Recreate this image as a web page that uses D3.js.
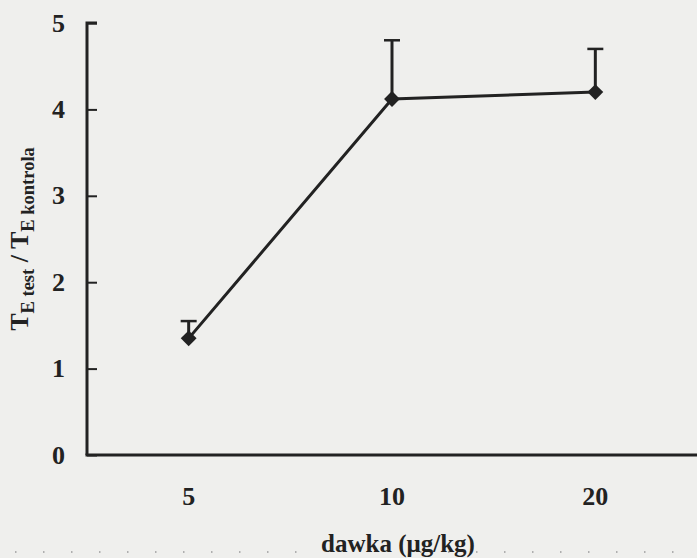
<!DOCTYPE html>
<html>
<head>
<meta charset="utf-8">
<script src="https://cdn.jsdelivr.net/npm/d3@7"></script>
<style>
  html, body { margin: 0; padding: 0; background: #efefed; }
  svg { display: block; }
</style>
</head>
<body>
<svg id="chart" width="697" height="558"></svg>
<script>
// Dose levels (µg/kg) and mean ratio T_E test / T_E kontrola with upper error
const doses = ["5", "10", "20"];
const ratio = [1.35, 4.12, 4.2];
const errUp = [0.2, 0.68, 0.5];
const yTicks = [0, 1, 2, 3, 4, 5];

const W = 697, H = 558;
const margin = { left: 87, right: 0, top: 23, bottom: 103 };
const ink = "#222";
const font = "'Liberation Serif', 'Times New Roman', serif";

const svg = d3.select("#chart");

svg.append("rect").attr("width", W).attr("height", H).attr("fill", "#efefed");

const x = d3.scalePoint().domain(doses).range([margin.left, W - margin.right]).padding(0.5);
const y = d3.scaleLinear().domain([0, 5]).range([H - margin.bottom, margin.top]);

// Y axis with ticks pointing into the plot
const yAxis = svg.append("g")
  .attr("transform", `translate(${margin.left},0)`)
  .call(d3.axisRight(y).tickValues(yTicks).tickSize(10).tickFormat(""));
yAxis.select(".domain").attr("stroke", ink).attr("stroke-width", 3).attr("d", `M10,${y(5)}H0V${y(0)}`);
yAxis.selectAll(".tick line").attr("stroke", ink).attr("stroke-width", 2);

// Y tick labels
svg.append("g").selectAll("text").data(yTicks).join("text")
  .attr("x", margin.left - 22)
  .attr("y", d => y(d))
  .attr("dy", "0.33em")
  .attr("text-anchor", "end")
  .attr("font-family", font).attr("font-weight", "bold").attr("font-size", 26)
  .attr("fill", ink)
  .text(d => d);

// X axis line
svg.append("line")
  .attr("x1", margin.left - 1.5).attr("x2", W)
  .attr("y1", y(0)).attr("y2", y(0))
  .attr("stroke", ink).attr("stroke-width", 3);

// X category labels
svg.append("g").selectAll("text").data(doses).join("text")
  .attr("x", d => x(d))
  .attr("y", 505)
  .attr("text-anchor", "middle")
  .attr("font-family", font).attr("font-weight", "bold").attr("font-size", 26)
  .attr("fill", ink)
  .text(d => d);

// X axis title
svg.append("text")
  .attr("x", 398).attr("y", 552)
  .attr("text-anchor", "middle")
  .attr("font-family", font).attr("font-weight", "bold").attr("font-size", 25)
  .attr("fill", ink)
  .text("dawka (μg/kg)");

// Dotted rule beside the x title
svg.append("line").attr("x1", 15).attr("x2", 300).attr("y1", 552).attr("y2", 552)
  .attr("stroke", "#9a9a9a").attr("stroke-width", 1.5).attr("stroke-dasharray", "1.5,26.5");
svg.append("line").attr("x1", 420).attr("x2", 697).attr("y1", 552).attr("y2", 552)
  .attr("stroke", "#9a9a9a").attr("stroke-width", 1.5).attr("stroke-dasharray", "1.5,26.5");

// Y axis title with subscripts
const yt = svg.append("text")
  .attr("transform", "translate(28,239) rotate(-90)")
  .attr("text-anchor", "middle")
  .attr("font-family", font).attr("font-weight", "bold").attr("font-size", 26)
  .attr("fill", ink);
yt.append("tspan").text("T");
yt.append("tspan").attr("font-size", 18.5).attr("dy", 6).text("E test");
yt.append("tspan").attr("dy", -6).text(" / T");
yt.append("tspan").attr("font-size", 18.5).attr("dy", 6).text("E kontrola");

const data = doses.map((d, i) => ({ d, v: ratio[i], e: errUp[i] }));

// Upper error bars
const eb = svg.append("g").attr("stroke", ink);
eb.selectAll("line.stem").data(data).join("line").attr("class", "stem")
  .attr("x1", d => x(d.d)).attr("x2", d => x(d.d))
  .attr("y1", d => y(d.v)).attr("y2", d => y(d.v + d.e))
  .attr("stroke-width", 3);
eb.selectAll("line.cap").data(data).join("line").attr("class", "cap")
  .attr("x1", d => x(d.d) - 8).attr("x2", d => x(d.d) + 8)
  .attr("y1", d => y(d.v + d.e)).attr("y2", d => y(d.v + d.e))
  .attr("stroke-width", 2.5);

// Connecting line
svg.append("path").datum(data)
  .attr("fill", "none").attr("stroke", ink).attr("stroke-width", 3)
  .attr("d", d3.line().x(d => x(d.d)).y(d => y(d.v)));

// Diamond markers
svg.append("g").selectAll("path").data(data).join("path")
  .attr("transform", d => `translate(${x(d.d)},${y(d.v)})`)
  .attr("d", d3.symbol(d3.symbolDiamond2, 160))
  .attr("fill", ink);
</script>
</body>
</html>
